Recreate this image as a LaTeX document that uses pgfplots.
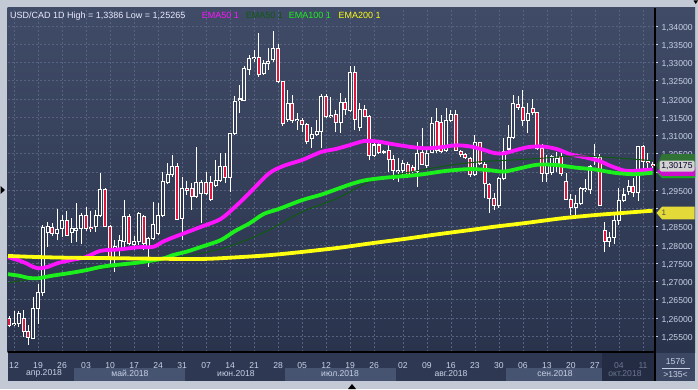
\documentclass[border=0pt]{standalone}
\usepackage{pgfplots}
\pgfplotsset{compat=1.18}
\usepackage{pgfplotstable}
\usepackage{fontspec}
\setmainfont{Liberation Sans}

\definecolor{framec}{HTML}{C3CAD6}
\definecolor{bgtop}{HTML}{404B67}
\definecolor{bgbot}{HTML}{29334C}
\definecolor{stripc}{HTML}{2E3852}
\definecolor{bandc}{HTML}{465472}
\definecolor{octc}{HTML}{232C42}
\definecolor{octtext}{HTML}{6B7690}
\definecolor{boxc}{HTML}{3B4763}
\definecolor{gridc}{HTML}{56627F}
\definecolor{tickc}{HTML}{C8D2E6}
\definecolor{candred}{HTML}{E0163C}
\definecolor{emamag}{HTML}{FF14FF}
\definecolor{emadk}{HTML}{0D5A10}
\definecolor{emagr}{HTML}{1CF01C}
\definecolor{emaye}{HTML}{FFFF10}

\pgfplotstableread{
i o h l c
-1 1.2599 1.2605 1.2575 1.2579
0 1.2581 1.2620 1.2578 1.2586
1 1.2585 1.2619 1.2575 1.2613
2 1.2599 1.2622 1.2548 1.2562
3 1.2562 1.2581 1.2527 1.2547
4 1.2544 1.2657 1.2542 1.2626
5 1.2626 1.2693 1.2583 1.2669
6 1.2669 1.2855 1.2660 1.2847
7 1.2835 1.2863 1.2794 1.2850
8 1.2848 1.2860 1.2824 1.2832
9 1.2832 1.2900 1.2813 1.2843
10 1.2844 1.2882 1.2822 1.2868
11 1.2868 1.2893 1.2824 1.2827
12 1.2835 1.2874 1.2805 1.2846
13 1.2839 1.2914 1.2809 1.2846
14 1.2846 1.2887 1.2802 1.2882
15 1.2882 1.2905 1.2838 1.2846
16 1.2848 1.2893 1.2835 1.2844
17 1.2850 1.2896 1.2836 1.2882
18 1.2882 1.2996 1.2877 1.2951
19 1.2951 1.2955 1.2850 1.2852
20 1.2852 1.2855 1.2745 1.2763
21 1.2786 1.2813 1.2727 1.2795
22 1.2786 1.2827 1.2770 1.2812
23 1.2809 1.2923 1.2795 1.2877
24 1.2877 1.2885 1.2800 1.2804
25 1.2802 1.2824 1.2786 1.2809
26 1.2809 1.2891 1.2800 1.2885
27 1.2877 1.2882 1.2786 1.2804
28 1.2791 1.2822 1.2740 1.2818
29 1.2818 1.2917 1.2815 1.2857
30 1.2832 1.2915 1.2827 1.2882
31 1.2882 1.3001 1.2876 1.2973
32 1.2970 1.3024 1.2967 1.2992
33 1.2992 1.3046 1.2986 1.3014
34 1.3014 1.3024 1.2868 1.2870
35 1.2873 1.2987 1.2815 1.2955
36 1.2955 1.2975 1.2937 1.2950
37 1.2955 1.2969 1.2896 1.2932
38 1.2932 1.3069 1.2929 1.2970
39 1.2941 1.2978 1.2860 1.2970
40 1.2970 1.3001 1.2937 1.2941
41 1.2970 1.2989 1.2920 1.2925
42 1.2964 1.3033 1.2959 1.2978
43 1.2978 1.3051 1.2972 1.3014
44 1.3014 1.3051 1.2969 1.2985
45 1.2985 1.3107 1.2946 1.3106
46 1.3106 1.3208 1.3101 1.3192
47 1.3197 1.3238 1.3161 1.3200
48 1.3197 1.3290 1.3194 1.3284
49 1.3281 1.3320 1.3266 1.3311
50 1.3310 1.3334 1.3301 1.3314
51 1.3314 1.3382 1.3261 1.3266
52 1.3270 1.3307 1.3266 1.3296
53 1.3296 1.3339 1.3279 1.3302
54 1.3307 1.3386 1.3301 1.3339
55 1.3339 1.3352 1.3243 1.3247
56 1.3247 1.3249 1.3126 1.3133
57 1.3144 1.3224 1.3138 1.3188
58 1.3188 1.3211 1.3135 1.3140
59 1.3140 1.3161 1.3115 1.3144
60 1.3142 1.3148 1.3110 1.3131
61 1.3130 1.3134 1.3076 1.3083
62 1.3092 1.3124 1.3065 1.3103
63 1.3104 1.3142 1.3098 1.3110
64 1.3110 1.3215 1.3065 1.3206
65 1.3206 1.3215 1.3148 1.3151
66 1.3151 1.3206 1.3148 1.3154
67 1.3158 1.3170 1.3110 1.3136
68 1.3135 1.3217 1.3107 1.3190
69 1.3190 1.3203 1.3156 1.3170
70 1.3168 1.3290 1.3164 1.3272
71 1.3272 1.3290 1.3115 1.3144
72 1.3122 1.3188 1.3113 1.3171
73 1.3171 1.3183 1.3150 1.3153
74 1.3153 1.3156 1.3033 1.3046
75 1.3046 1.3087 1.3040 1.3074
76 1.3074 1.3082 1.3049 1.3053
77 1.3053 1.3060 1.3049 1.3055
78 1.3060 1.3074 1.3001 1.3033
79 1.3033 1.3047 1.2978 1.3005
80 1.3001 1.3038 1.2973 1.3005
81 1.3005 1.3033 1.2992 1.3022
82 1.3021 1.3028 1.2984 1.2992
83 1.3013 1.3019 1.2996 1.3001
84 1.3001 1.3083 1.2960 1.3051
85 1.3054 1.3120 1.3019 1.3021
86 1.3019 1.3060 1.3011 1.3051
87 1.3054 1.3152 1.3051 1.3133
88 1.3138 1.3175 1.3051 1.3058
89 1.3136 1.3156 1.3052 1.3056
90 1.3060 1.3175 1.3056 1.3140
91 1.3142 1.3170 1.3138 1.3158
92 1.3158 1.3170 1.3058 1.3060
93 1.3056 1.3060 1.3042 1.3047
94 1.3047 1.3051 1.3036 1.3039
95 1.3038 1.3042 1.2987 1.2992
96 1.2992 1.3101 1.2990 1.3081
97 1.3081 1.3083 1.3019 1.3024
98 1.3021 1.3028 1.2928 1.2969
99 1.2966 1.2969 1.2887 1.2928
100 1.2928 1.2942 1.2896 1.2907
101 1.2907 1.2987 1.2901 1.2983
102 1.2983 1.3092 1.2978 1.3056
103 1.3063 1.3129 1.3056 1.3094
104 1.3094 1.3211 1.3090 1.3188
105 1.3186 1.3208 1.3170 1.3177
106 1.3177 1.3226 1.3126 1.3140
107 1.3140 1.3190 1.3107 1.3159
108 1.3174 1.3199 1.3156 1.3163
109 1.3163 1.3164 1.3060 1.3065
110 1.3065 1.3078 1.2973 1.2996
111 1.2996 1.3046 1.2973 1.3024
112 1.2998 1.3046 1.2992 1.3042
113 1.3019 1.3055 1.3000 1.3038
114 1.3042 1.3052 1.2989 1.2996
115 1.2973 1.2997 1.2923 1.2925
116 1.2925 1.2941 1.2882 1.2903
117 1.2903 1.2937 1.2882 1.2914
118 1.2914 1.2960 1.2909 1.2955
119 1.2952 1.2982 1.2945 1.2955
120 1.2952 1.3019 1.2941 1.3016
121 1.3033 1.3078 1.3019 1.3040
122 1.3040 1.3049 1.2907 1.2909
123 1.2841 1.2864 1.2781 1.2809
124 1.2809 1.2836 1.2795 1.2821
125 1.2821 1.2882 1.2804 1.2868
126 1.2868 1.2955 1.2855 1.2923
127 1.2923 1.2956 1.2918 1.2937
128 1.2946 1.2978 1.2937 1.2961
129 1.2961 1.2983 1.2932 1.2943
130 1.2943 1.3071 1.2921 1.3069
131 1.3069 1.3074 1.3007 1.3030
132 1.3030 1.3053 1.3010 1.3025
133 1.3021 1.3028 1.3011 1.30175
}\candles

\pgfplotstableread{
i v
-1.25 1.2767
2 1.2753
4 1.2740
5 1.2736
7 1.2740
9 1.2750
12 1.2759
15 1.2767
18 1.2784
22 1.2788
26 1.2794
29 1.2795
31 1.2809
33 1.2820
36 1.2835
39 1.2850
43 1.2871
46 1.2904
49 1.2942
53 1.2995
56 1.3016
60 1.3033
64 1.3055
67 1.3063
70 1.3074
73 1.3085
76 1.3083
79 1.3076
83 1.3068
86 1.3065
89 1.3068
92 1.3073
95 1.3070
98 1.3060
100 1.3052
102 1.3051
104 1.3058
107 1.3068
110 1.3070
113 1.3063
116 1.3048
119 1.3040
122 1.3030
124 1.3018
127 1.3004
129 1.3003
131 1.3005
133 1.3007
}\emaA

\pgfplotstableread{
i v
-1.25 1.2697
5 1.2709
12 1.2724
19 1.2736
26 1.2748
33 1.2762
43 1.2789
50 1.2822
53 1.2840
60 1.2891
67 1.2926
74 1.2973
81 1.2996
91 1.3019
98 1.3029
104 1.3033
109 1.3037
117 1.3044
124 1.3040
133 1.3031
}\emaB

\pgfplotstableread{
i v
-1.25 1.2720
1 1.2716
3 1.2710
5 1.2709
8 1.2716
12 1.2724
15 1.2731
19 1.2742
26 1.2752
31 1.2763
33 1.2772
36 1.2782
39 1.2795
43 1.2813
46 1.2838
49 1.2859
52 1.2885
55 1.2898
60 1.2923
64 1.2938
67 1.2952
70 1.2966
73 1.2977
77 1.2984
84 1.2992
90 1.3003
95 1.3008
99 1.3005
102 1.3001
105 1.3009
109 1.3020
113 1.3019
117 1.3012
121 1.3007
125 1.2998
129 1.2994
133 1.2998
}\emaC

\pgfplotstableread{
i v
-1.25 1.2770
5 1.2767
12 1.2765
20 1.2764
26 1.2763
33 1.2762
40 1.2762
46 1.2766
53 1.2772
60 1.2781
68 1.2793
74 1.2804
81 1.2816
88 1.2829
95 1.2841
100 1.2850
107 1.2861
114 1.2873
121 1.2882
128 1.2889
133 1.2894
}\emaD

\newcommand{\tf}{\fontsize{8.6}{10}\selectfont}
\newcommand{\hf}{\fontsize{9}{11}\selectfont}

\begin{document}
\begin{tikzpicture}
\fill[framec] (0,0) rectangle (698pt,389pt);
\begin{scope}[x=1pt,y=-1pt,yshift=389pt]
  \shade[top color=bgtop, bottom color=bgbot] (7.5,7.5) rectangle (695,352);
  \fill[stripc] (7.5,352) rectangle (656,381);
  \fill[bandc] (74,368) rectangle (185,381);
  \fill[bandc] (285,368) rectangle (395.6,381);
  \fill[bandc] (506,368) rectangle (602,381);
  \fill[octc] (602,353) rectangle (655,381);
  \fill[boxc] (656,353) rectangle (695,381);
\end{scope}

\begin{axis}[
  at={(8pt,37pt)}, anchor=south west,
  scale only axis, width=647pt, height=344pt,
  xmin=-1.25, xmax=133.5, ymin=1.250686, ymax=1.344931,
  axis background/.style={shade, top color=bgtop, bottom color=bgbot},
  axis x line*=bottom, axis y line*=right,
  axis line style={black, line width=1.2pt, -},
  xtick={0,5,10,15,20,25,30,35,40,45,50,55,60,65,70,75,81,86,91,96,101,106,111,116,121,126,131},
  xticklabels={12,19,26,03,10,17,24,31,07,14,21,28,05,12,19,26,02,09,16,23,30,06,13,20,27,\textcolor{octtext}{04},\textcolor{octtext}{11}},
  ytick={1.255,1.26,1.265,1.27,1.275,1.28,1.285,1.29,1.295,1.3,1.305,1.31,1.315,1.32,1.325,1.33,1.335,1.34},
  yticklabels={{1,25500},{1,26000},{1,26500},{1,27000},{1,27500},{1,28000},{1,28500},{},{1,29500},{},{1,30500},{1,31000},{1,31500},{1,32000},{1,32500},{1,33000},{1,33500},{1,34000}},
  yticklabel style={font=\tf, text=tickc, anchor=west, xshift=0pt, yshift=-1.7pt},
  xticklabel style={font=\tf, text=tickc, anchor=base, yshift=-13.5pt},
  grid=major,
  major grid style={gridc, dash pattern=on 2pt off 2pt, line width=0.6pt},
  x tick style={draw=none},
  y tick style={tickc, line width=0.6pt},
  tick align=outside, major tick length=3pt,
]
% wicks
\addplot[draw=none, mark=none, forget plot,
  error bars/.cd, y dir=plus, y explicit, error mark=none,
  error bar style={draw=white, line width=1pt}]
  table[x=i, y=l, y error plus expr={\thisrow{h}-\thisrow{l}}] {\candles};
% body outline
\addplot[draw=none, mark=none, forget plot,
  error bars/.cd, y dir=plus, y explicit, error mark=none,
  error bar style={draw=white, line width=4pt}]
  table[x=i, y expr={min(\thisrow{o},\thisrow{c})-0.00014}, y error plus expr={abs(\thisrow{c}-\thisrow{o})+0.00028}] {\candles};
% down bodies
\addplot[draw=none, mark=none, forget plot,
  restrict expr to domain={\thisrow{o}-\thisrow{c}}{0.00001:1},
  error bars/.cd, y dir=plus, y explicit, error mark=none,
  error bar style={draw=candred, line width=2pt}]
  table[x=i, y expr={\thisrow{c}+0.00014}, y error plus expr={max(\thisrow{o}-\thisrow{c}-0.00028,0)}] {\candles};
% up bodies (hollow)
\addplot[draw=none, mark=none, forget plot,
  restrict expr to domain={(\thisrow{c}>=\thisrow{o})*(\thisrow{o}>1.315)}{0.5:2},
  error bars/.cd, y dir=plus, y explicit, error mark=none,
  error bar style={draw=bgtop!78!bgbot, line width=2pt}]
  table[x=i, y expr={\thisrow{o}+0.00014}, y error plus expr={max(\thisrow{c}-\thisrow{o}-0.00028,0)}] {\candles};
\addplot[draw=none, mark=none, forget plot,
  restrict expr to domain={(\thisrow{c}>=\thisrow{o})*(\thisrow{o}<=1.315)*(\thisrow{o}>1.29)}{0.5:2},
  error bars/.cd, y dir=plus, y explicit, error mark=none,
  error bar style={draw=bgtop!52!bgbot, line width=2pt}]
  table[x=i, y expr={\thisrow{o}+0.00014}, y error plus expr={max(\thisrow{c}-\thisrow{o}-0.00028,0)}] {\candles};
\addplot[draw=none, mark=none, forget plot,
  restrict expr to domain={(\thisrow{c}>=\thisrow{o})*(\thisrow{o}<=1.29)}{0.5:2},
  error bars/.cd, y dir=plus, y explicit, error mark=none,
  error bar style={draw=bgtop!25!bgbot, line width=2pt}]
  table[x=i, y expr={\thisrow{o}+0.00014}, y error plus expr={max(\thisrow{c}-\thisrow{o}-0.00028,0)}] {\candles};
% EMAs
\addplot[emamag, line width=3.8pt, smooth, line join=round] table[x=i, y=v] {\emaA};
\addplot[emadk, line width=1pt, smooth] table[x=i, y=v] {\emaB};
\addplot[emagr, line width=3.8pt, smooth, line join=round] table[x=i, y=v] {\emaC};
\addplot[emaye, line width=3.8pt, smooth, line join=round] table[x=i, y=v] {\emaD};
\end{axis}

\begin{scope}[x=1pt,y=-1pt,yshift=389pt]
  \draw[black, line width=1.2pt] (655,352) -- (655,381);
  % month labels
  \foreach \xx/\tt in {44/апр.2018, 130/май.2018, 236/июн.2018, 340/июл.2018, 451/авг.2018, 555/сен.2018}
    \node[font=\tf, text=tickc, inner sep=0pt] at (\xx,373.5) {\tt};
  \node[font=\tf, text=octtext, inner sep=0pt] at (625,373.5) {окт.2018};
  % title and legend
  \node[font=\hf, text=white!92!blue, anchor=base west, inner sep=0pt] at (10,18.3) {USD/CAD 1D High = 1,3386 Low = 1,25265};
  \node[font=\hf, text=emamag, anchor=base west, inner sep=0pt] at (201.7,18.3) {EMA50 1};
  \node[font=\hf, text=emadk, anchor=base west, inner sep=0pt] at (245.7,18.3) {EMA50 1};
  \node[font=\hf, text=emagr, anchor=base west, inner sep=0pt] at (288.7,18.3) {EMA100 1};
  \node[font=\hf, text=emaye, anchor=base west, inner sep=0pt] at (338.3,18.3) {EMA200 1};
  % right markers
  \fill[emadk!85!white] (656.5,165.5) -- (662,154) -- (695,154) -- (695,177) -- (662,177) -- cycle;
  \fill[emagr!75!black] (657,173) -- (662,168.5) -- (695,168.5) -- (695,178) -- (662,178) -- cycle;
  \fill[emamag!80!black] (657,171.5) -- (662,167) -- (695,167) -- (695,176) -- (662,176) -- cycle;
  \fill[gray!35!white, rounded corners=1.5pt] (659.5,160.5) rectangle (694.5,171.5);
  \node[font=\tf, text=black!85!blue, inner sep=0pt] at (677,166) {1,30175};
  \fill[yellow!75!gray] (656.5,213) -- (662,206.7) -- (694.5,206.7) -- (694.5,219.3) -- (662,219.3) -- cycle;
  \node[font=\fontsize{8}{9}\selectfont, text=black!80!yellow, anchor=west, inner sep=0pt] at (661.5,213) {1};
  % bottom right box
  \node[font=\tf, text=tickc, inner sep=0pt] at (675.5,361.7) {1576};
  \draw[tickc, line width=0.5pt] (662,368.3) -- (690,368.3);
  \node[font=\tf, text=tickc, inner sep=0pt] at (675.5,374.5) {>135<};
  % small indicators
  \fill[black] (348,389) -- (352,384) -- (356,389) -- cycle;
  \fill[black] (0.5,186) -- (5,190) -- (0.5,194) -- cycle;
  \fill[black] (693.5,0.5) -- (698,0.5) -- (695.75,4) -- cycle;
\end{scope}
\pgfresetboundingbox
\path[use as bounding box] (0,0) rectangle (698pt,389pt);
\end{tikzpicture}
\end{document}
